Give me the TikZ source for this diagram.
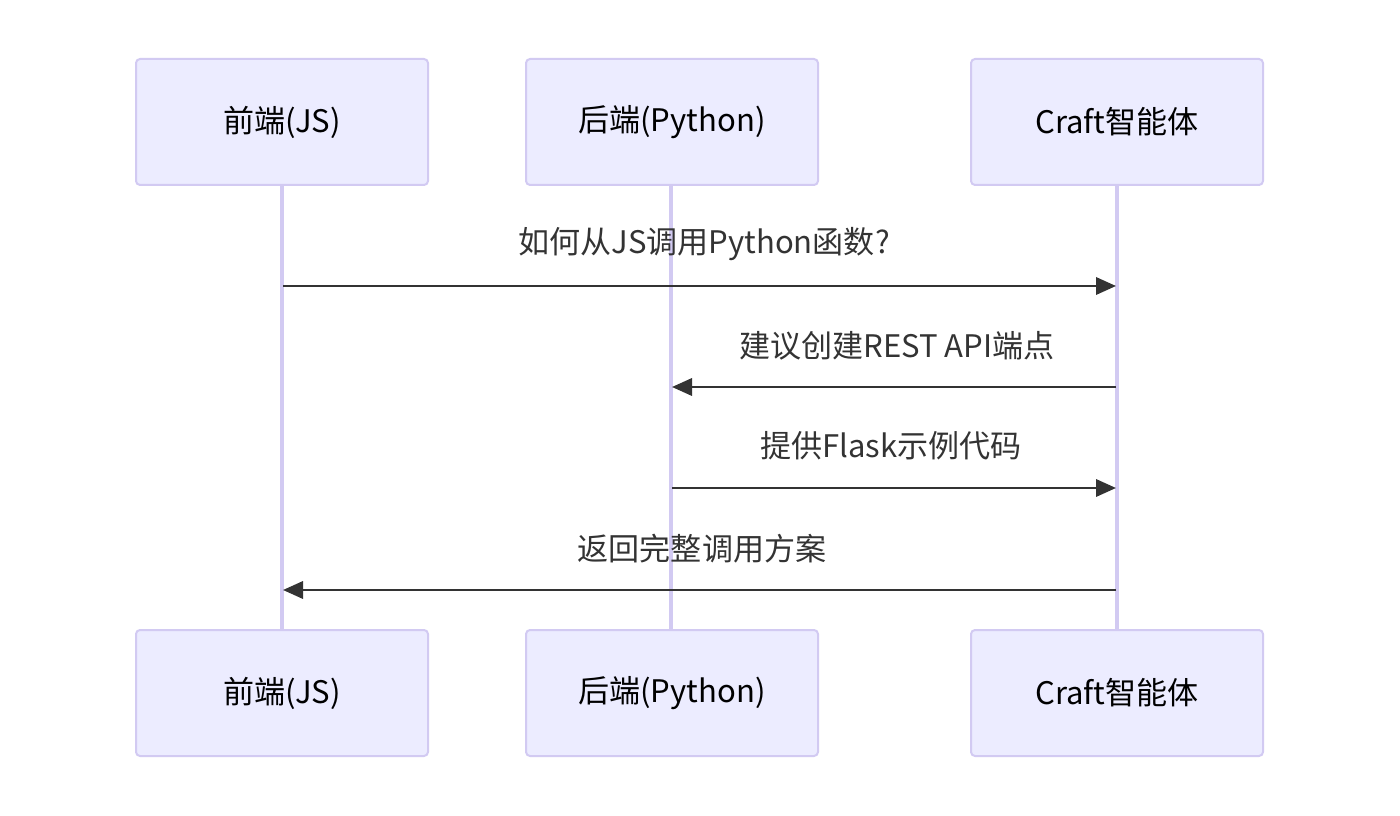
\documentclass[tikz,border=0pt]{standalone}
\usepackage{fontspec}
\setmainfont{Noto Sans CJK SC}
\usetikzlibrary{arrows.meta}
\definecolor{actorfill}{HTML}{ECECFF}
\definecolor{actorline}{HTML}{D2CAF2}
\definecolor{msgcolor}{HTML}{333333}
\tikzset{
  actor/.style={draw=actorline, line width=1.5pt, fill=actorfill, rounded corners=3pt,
    minimum width=219pt, minimum height=94.5pt, text=black, font=\fontsize{23.3}{27}\selectfont},
  lifeline/.style={draw=actorline, line width=2.5pt},
  msg/.style={draw=msgcolor, line width=1.8pt, -{Triangle[length=15pt,width=13pt]}},
  msglabel/.style={text=msgcolor, font=\fontsize{23.3}{27}\selectfont, inner sep=0pt}
}
\begin{document}
\begin{tikzpicture}[x=0.75pt,y=-0.75pt]
\useasboundingbox (0,0) rectangle (1400,816);
% lifelines
\draw[lifeline] (282,184) -- (282,629);
\draw[lifeline] (671,184) -- (671,629);
\draw[lifeline] (1117,184) -- (1117,629);
% actors
\node[actor] (fe) at (282,122) {前端(JS)};
\node[actor] (be) at (672,122) {后端(Python)};
\node[actor] (ai) at (1117,122) {Craft智能体};
\node[actor] (fe2) at (282,693) {前端(JS)};
\node[actor] (be2) at (672,693) {后端(Python)};
\node[actor] (ai2) at (1117,693) {Craft智能体};
% messages
\coordinate (m1a) at (283,286);
\coordinate (m1b) at (1116,286);
\draw[msg] (m1a) -- (m1b);
\node[msglabel] (l1) at (704,244) {如何从JS调用Python函数?};
\coordinate (m2a) at (1116,387);
\coordinate (m2b) at (672,387);
\draw[msg] (m2a) -- (m2b);
\node[msglabel] (l2) at (897,346) {建议创建REST API端点};
\coordinate (m3a) at (672,488);
\coordinate (m3b) at (1116,488);
\draw[msg] (m3a) -- (m3b);
\node[msglabel] (l3) at (891,446) {提供Flask示例代码};
\coordinate (m4a) at (1116,590);
\coordinate (m4b) at (283,590);
\draw[msg] (m4a) -- (m4b);
\node[msglabel] (l4) at (702,549) {返回完整调用方案};
\end{tikzpicture}
\end{document}
